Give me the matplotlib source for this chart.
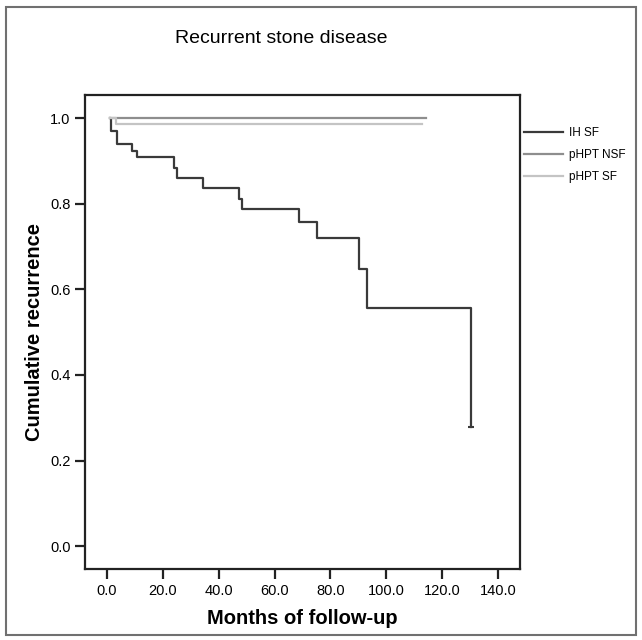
import matplotlib
matplotlib.use("Agg")
import matplotlib.pyplot as plt
from matplotlib.patches import Rectangle

# kaplan-meier steps
ihTimes = [1.2, 1.5, 3.6, 8.9, 10.7, 24.2, 25.2, 34.3, 47.3, 48.3, 68.8, 75.1, 90.3, 93.2, 130.2]
ihValues = [1.0, 0.969, 0.940, 0.924, 0.909, 0.883, 0.860, 0.837, 0.812, 0.788, 0.757, 0.720, 0.648, 0.557, 0.279]
nsfTimes = [1.2, 114.2]
nsfValues = [1.0, 1.0]
sfTimes = [1.2, 3.3, 112.6]
sfValues = [1.0, 0.986, 0.986]

seriesNames = ["IH SF", "pHPT NSF", "pHPT SF"]
xTicks = [0, 20, 40, 60, 80, 100, 120, 140]
yTicks = [0.0, 0.2, 0.4, 0.6, 0.8, 1.0]


def main():
	plt.rcParams['font.family'] = ['Liberation Sans', 'DejaVu Sans']
	fig = plt.figure(figsize=(6.42, 6.40), dpi=100)
	# grey frame round the whole picture
	fig.patches.append(Rectangle((0.009, 0.008), 0.982, 0.981, transform=fig.transFigure,
		fill=False, edgecolor='#707070', linewidth=1.5))
	ax = fig.add_axes([0.1324, 0.111, 0.6776, 0.7406])

	ax.step(ihTimes, ihValues, where='post', color='#3a3a3a', linewidth=1.6, label=seriesNames[0])
	ax.step(nsfTimes, nsfValues, where='post', color='#8e8e8e', linewidth=1.6, label=seriesNames[1])
	ax.step(sfTimes, sfValues, where='post', color='#c4c4c4', linewidth=1.6, label=seriesNames[2])
	# censored case at the end
	ax.plot([ihTimes[-1]], [ihValues[-1]], marker='_', color='#3a3a3a', markersize=4, markeredgewidth=1.5)

	ax.set_xlim(-7.8, 147.8)
	ax.set_ylim(-0.053, 1.054)
	ax.set_xticks(xTicks)
	ax.set_xticklabels(["%.1f" % t for t in xTicks])
	ax.set_yticks(yTicks)
	ax.set_yticklabels(["%.1f" % t for t in yTicks])
	ax.tick_params(direction='out', length=7, width=1.6, labelsize=10.5, color='#222222')
	for s in ax.spines.values():
		s.set_linewidth(1.6)
		s.set_color('#222222')

	ax.set_xlabel("Months of follow-up", fontsize=14.5, fontweight='bold', labelpad=8)
	ax.set_ylabel("Cumulative recurrence", fontsize=14.5, fontweight='bold', labelpad=4)
	fig.text(0.438, 0.94, "Recurrent stone disease", ha='center', va='center', fontsize=14)

	ax.legend(loc='upper left', bbox_to_anchor=(0.99, 0.95), frameon=False, fontsize=8.5,
		handlelength=3.3, handletextpad=0.5, labelspacing=0.85, borderaxespad=0.3)

	fig.savefig("out.png", dpi=100)


main()
